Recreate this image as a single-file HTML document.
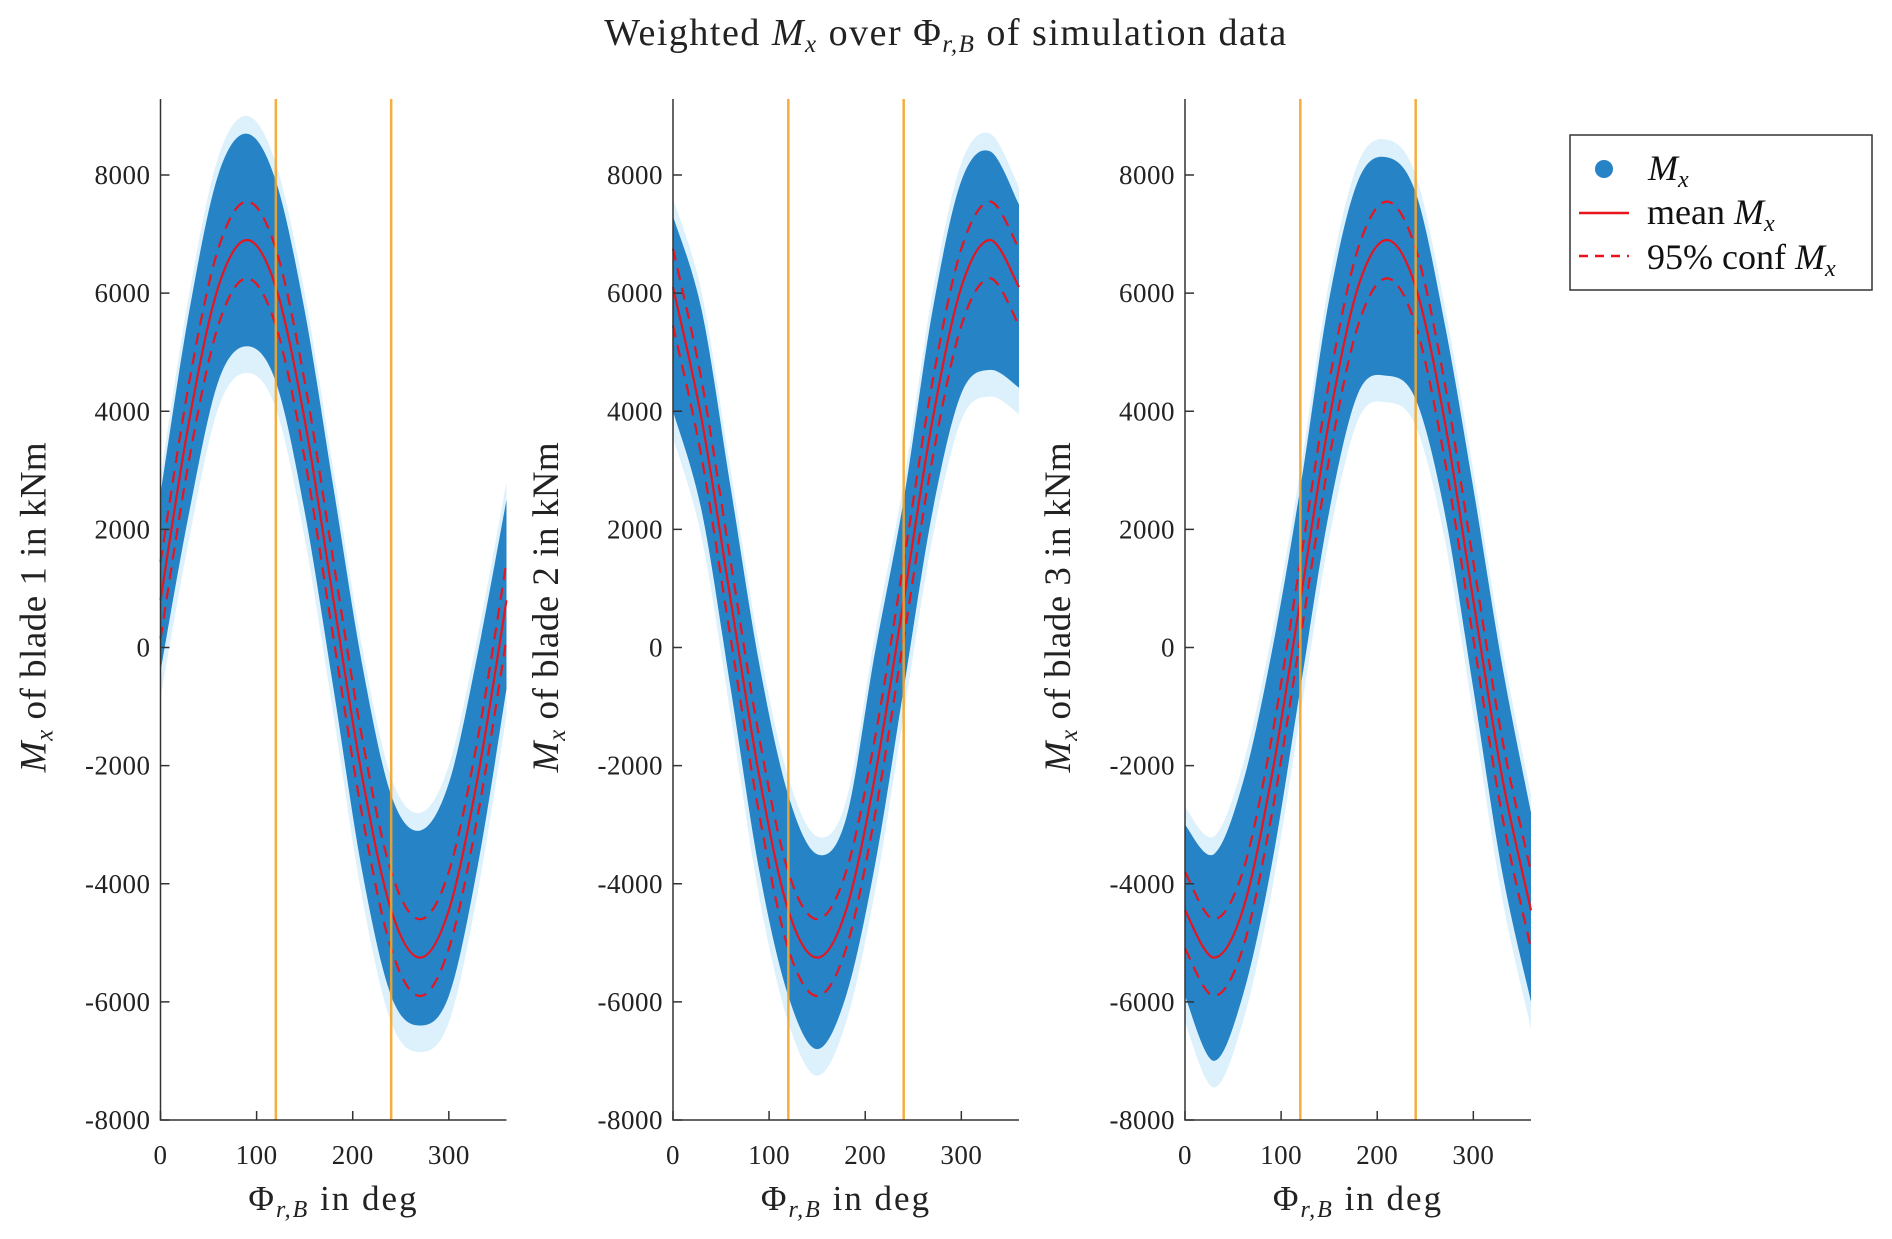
<!DOCTYPE html>
<html><head><meta charset="utf-8"><style>
html,body{margin:0;padding:0;background:#fff;}
svg{display:block;font-family:"Liberation Serif",serif;}
</style></head><body>
<svg id="chart" width="1892" height="1239" viewBox="0 0 1892 1239" xmlns="http://www.w3.org/2000/svg">
<text x="946" y="45" text-anchor="middle" font-size="38" letter-spacing="1.5" fill="#222">Weighted <tspan font-style="italic">M</tspan><tspan font-style="italic" font-size="25" dy="7">x</tspan><tspan dy="-7"> over Φ</tspan><tspan font-style="italic" font-size="25" dy="7">r,B</tspan><tspan dy="-7"> of simulation data</tspan></text>
<g id="panels"></g>
<g>
<rect x="1570" y="135" width="302" height="155" fill="#fff" stroke="#333" stroke-width="1.5"/>
<g><circle cx="1604" cy="169" r="9" fill="#2683c6"/><text x="1648" y="180" font-size="36" font-style="italic" fill="#111">M<tspan font-size="24" dy="7">x</tspan></text></g>
<g><line x1="1579" y1="213" x2="1629" y2="213" stroke="#e8141e" stroke-width="2.5"/><text x="1647" y="224" font-size="36" fill="#111">mean <tspan font-style="italic">M</tspan><tspan font-style="italic" font-size="24" dy="7">x</tspan></text></g>
<g><line x1="1579" y1="256" x2="1629" y2="256" stroke="#e8141e" stroke-width="2.5" stroke-dasharray="9,7"/><text x="1647" y="269" font-size="36" fill="#111">95% conf <tspan font-style="italic">M</tspan><tspan font-style="italic" font-size="24" dy="7">x</tspan></text></g>
</g>
</svg>
<script>
const angles = [0,30,60,90,120,150,180,210,240,270,300,330,360];
const mean1 = [800,3850,6100,6900,6100,3850,800,-2200,-4450,-5250,-4450,-2200,800];
const mean2 = [6100,3850,800,-2200,-4450,-5250,-4450,-2200,800,3850,6100,6900,6100];
const mean3 = [-4450,-5250,-4450,-2200,800,3850,6100,6900,6100,3850,800,-2200,-4450];
const hi1 = [2600,5700,8000,8700,7900,5700,2700,-300,-2500,-3100,-2300,-100,2500];
const lo1 = [-400,2300,4500,5100,4500,2300,-700,-3800,-5900,-6400,-5900,-3700,-700];
const hi2 = [7300,5700,2700,-300,-2500,-3500,-2900,-100,2500,5700,7900,8400,7500];
const lo2 = [4000,2300,-700,-3800,-5900,-6800,-5900,-3700,-700,2300,4300,4700,4400];
const hi3 = [-3000,-3500,-2300,-100,2700,5900,7900,8300,7700,5500,2700,-300,-2800];
const lo3 = [-5900,-7000,-5900,-3700,-700,2300,4300,4600,4200,2300,-700,-3800,-6000];
const confHalf = [650,650,650,650,650,650,650,650,650,650,650,650,650];
const yTicks = [-8000,-6000,-4000,-2000,0,2000,4000,6000,8000];
const xTicks = [0,100,200,300];
const vLines = [120,240];
const blades = [
  {n:1, mean:mean1, hi:hi1, lo:lo1, x0:160.5},
  {n:2, mean:mean2, hi:hi2, lo:lo2, x0:673},
  {n:3, mean:mean3, hi:hi3, lo:lo3, x0:1185}
];
const NS="http://www.w3.org/2000/svg";
const W=346, yTop=99, yZero=647.5, yPer=945/16000;
function mk(tag, attrs, parent){const e=document.createElementNS(NS,tag);for(const k in attrs)e.setAttribute(k,attrs[k]);if(parent)parent.appendChild(e);return e;}
function smooth(pts){
  let d="M"+pts[0][0].toFixed(1)+","+pts[0][1].toFixed(1);
  for(let i=0;i<pts.length-1;i++){
    const p0=pts[Math.max(0,i-1)],p1=pts[i],p2=pts[i+1],p3=pts[Math.min(pts.length-1,i+2)];
    const c1=[p1[0]+(p2[0]-p0[0])/6,p1[1]+(p2[1]-p0[1])/6];
    const c2=[p2[0]-(p3[0]-p1[0])/6,p2[1]-(p3[1]-p1[1])/6];
    d+="C"+c1[0].toFixed(1)+","+c1[1].toFixed(1)+" "+c2[0].toFixed(1)+","+c2[1].toFixed(1)+" "+p2[0].toFixed(1)+","+p2[1].toFixed(1);
  }
  return d;
}
function revSmooth(pts){return smooth(pts.slice().reverse()).replace(/^M/,"L");}
const root=document.getElementById("panels");
blades.forEach(b=>{
  const X=v=>b.x0+v/360*W;
  const Y=v=>yZero-v*yPer;
  const g=mk("g",{},root);
  
  
  const fh=angles.map((a,i)=>[X(a),Y(b.hi[i]+300)]);
  const fl=angles.map((a,i)=>[X(a),Y(b.lo[i]-450)]);
  const fr=mk("path",{d:smooth(fh)+revSmooth(fl)+"Z",fill:"#bfe6f7",opacity:"0.55"},g);
  
  
  const ph=angles.map((a,i)=>[X(a),Y(b.hi[i])]);
  const pl=angles.map((a,i)=>[X(a),Y(b.lo[i])]);
  const band=mk("path",{d:smooth(ph)+revSmooth(pl)+"Z",fill:"#2683c6"},g);
  
  
  [1,-1].forEach(s=>{
    const p=mk("path",{d:smooth(angles.map((a,i)=>[X(a),Y(b.mean[i]+s*confHalf[i])])),fill:"none",stroke:"#e8141e","stroke-width":"2.2","stroke-dasharray":"12,8"},g);
    
    
  });
  const m=mk("path",{d:smooth(angles.map((a,i)=>[X(a),Y(b.mean[i])])),fill:"none",stroke:"#e8141e","stroke-width":"2.2"},g);
  
  
  vLines.forEach(v=>{
    const l=mk("line",{x1:X(v),x2:X(v),y1:yTop,y2:Y(-8000),stroke:"#f5a52a","stroke-width":"2.5",opacity:"0.9"},g);
    
    
  });
  const ax=mk("path",{d:`M${b.x0},${yTop}V${Y(-8000)}H${b.x0+W}`,fill:"none",stroke:"#333","stroke-width":"1.5"},g);
  
  
  yTicks.forEach(t=>{
    mk("line",{x1:b.x0,x2:b.x0+9,y1:Y(t),y2:Y(t),stroke:"#333","stroke-width":"1.5"},g);
    const tx=mk("text",{x:b.x0-10,y:Y(t)+9,"text-anchor":"end","font-size":"27","letter-spacing":"0.5",fill:"#222"},g);
    tx.textContent=t;
    
    
  });
  xTicks.forEach(t=>{
    mk("line",{x1:X(t),x2:X(t),y1:Y(-8000),y2:Y(-8000)-9,stroke:"#333","stroke-width":"1.5"},g);
    const tx=mk("text",{x:X(t),y:1164,"text-anchor":"middle","font-size":"27","letter-spacing":"0.5",fill:"#222"},g);
    tx.textContent=t;
    
    
  });
  const xl=mk("text",{x:b.x0+W/2,y:1210,"text-anchor":"middle","font-size":"35","letter-spacing":"2",fill:"#222"},g);
  xl.innerHTML='Φ<tspan font-style="italic" font-size="24" dy="7">r,B</tspan><tspan dy="-7">  in deg</tspan>';
  
  
  const yx=b.x0-115, yy=607;
  const yl=mk("text",{x:yx,y:yy,"text-anchor":"middle","font-size":"37","letter-spacing":"0.5",fill:"#222",transform:`rotate(-90 ${yx} ${yy})`},g);
  yl.innerHTML='<tspan font-style="italic">M</tspan><tspan font-style="italic" font-size="25" dy="7">x</tspan><tspan dy="-7"> of blade '+b.n+' in kNm</tspan>';
  
  
});
</script>
</body></html>
